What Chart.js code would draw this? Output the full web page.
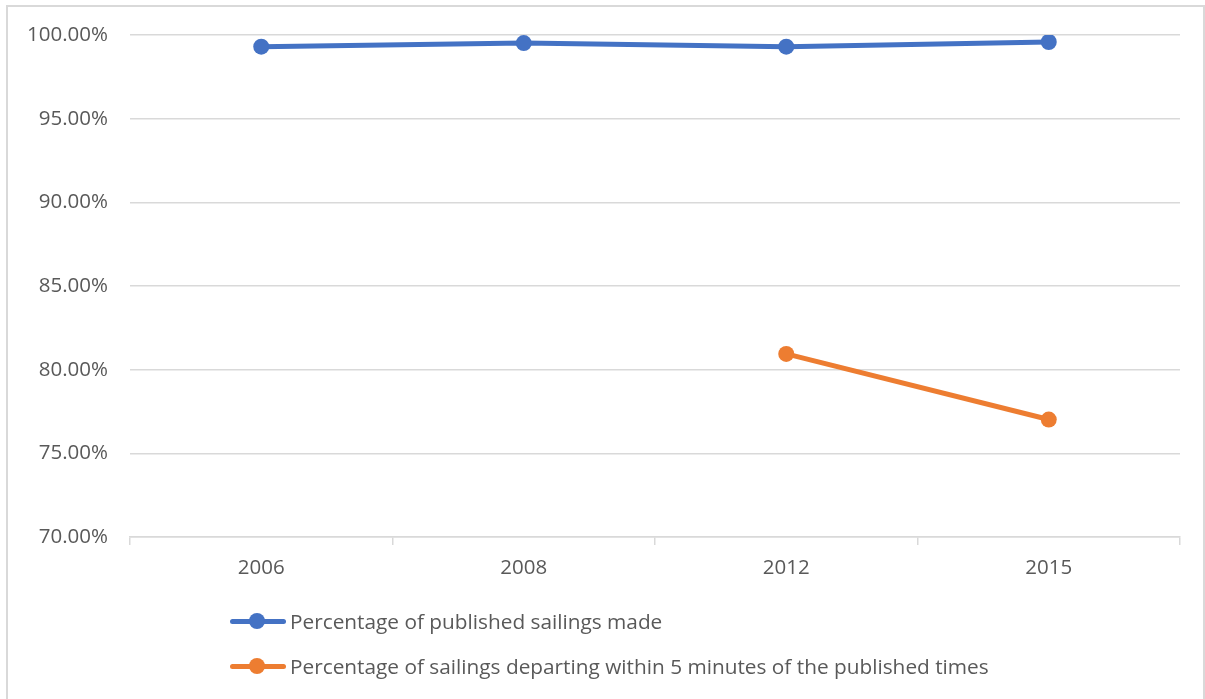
<!DOCTYPE html>
<html>
<head>
<meta charset="utf-8">
<script src="https://cdn.jsdelivr.net/npm/chart.js@4"></script>
<style>
  body { margin: 0; background: #fff; }
  #wrap { position: relative; width: 1205px; height: 699px; overflow: hidden; }
  #frame { position: absolute; left: 6px; top: 5px; width: 1195px; height: 720px; border: 2px solid #d9d9d9; }
  #chart { position: absolute; left: 0; top: 0; }
  .legend { position: absolute; left: 230px; font-family: "Open Sans", sans-serif; font-size: 20.8px; color: #595959; }
  .item { position: absolute; left: 0; white-space: nowrap; display: flex; align-items: center; }
  .sym { position: relative; width: 56px; height: 16px; margin-right: 4px; }
  .sym .ln { position: absolute; left: 0; top: 5.5px; width: 56px; height: 5px; border-radius: 3px; }
  .sym .dot { position: absolute; left: 19px; top: 0; width: 16px; height: 16px; border-radius: 50%; }
</style>
</head>
<body>
<div id="wrap">
  <div id="frame"></div>
  <canvas id="chart" width="1205" height="699"></canvas>
  <div class="legend" id="legend"></div>
</div>
<script>
const years = ["2006", "2008", "2012", "2015"];
const sailingsMade = [99.30, 99.52, 99.30, 99.58];
const onTime = [null, null, 80.94, 77.02];
const seriesNames = [
  "Percentage of published sailings made",
  "Percentage of sailings departing within 5 minutes of the published times",
];
const colors = ["#4472C4", "#ED7D31"];

const font = { family: "'Open Sans', sans-serif", size: 20.5 };

function line(label, data, color) {
  return {
    label: label,
    data: data,
    borderColor: color,
    backgroundColor: color,
    borderWidth: 5,
    pointRadius: 8,
    pointHoverRadius: 8,
    pointBorderWidth: 0,
    tension: 0,
    spanGaps: false,
  };
}

new Chart(document.getElementById("chart"), {
  type: "line",
  data: {
    labels: years,
    datasets: [
      line(seriesNames[0], sailingsMade, colors[0]),
      line(seriesNames[1], onTime, colors[1]),
    ],
  },
  options: {
    responsive: false,
    animation: false,
    layout: { padding: { top: 35, right: 25, left: 0, bottom: 0 } },
    plugins: { legend: { display: false }, tooltip: { enabled: false } },
    scales: {
      x: {
        offset: true,
        grid: { offset: true, drawOnChartArea: false, drawTicks: true, tickLength: 8, color: "#d9d9d9", lineWidth: 1.5 },
        border: { color: "#d9d9d9", width: 1.5 },
        ticks: { color: "#595959", font: font, padding: 11 },
        afterFit: (s) => { s.height = 162; },
      },
      y: {
        min: 70,
        max: 100,
        ticks: {
          stepSize: 5,
          color: "#595959",
          font: font,
          padding: 22,
          callback: (v) => v.toFixed(2) + "%",
        },
        grid: { color: "#d9d9d9", lineWidth: 1.5, drawTicks: false },
        border: { display: false },
        afterFit: (s) => { s.width = 130; },
      },
    },
  },
});

// legend below the axis, one series per row
const legend = document.getElementById("legend");
const rowY = [621, 666];
seriesNames.forEach((name, i) => {
  const item = document.createElement("div");
  item.className = "item";
  item.style.top = (rowY[i] - 14) + "px";
  item.innerHTML = `<span class="sym"><span class="ln" style="background:${colors[i]}"></span>` +
    `<span class="dot" style="background:${colors[i]}"></span></span><span>${name}</span>`;
  legend.appendChild(item);
});
</script>
</body>
</html>
